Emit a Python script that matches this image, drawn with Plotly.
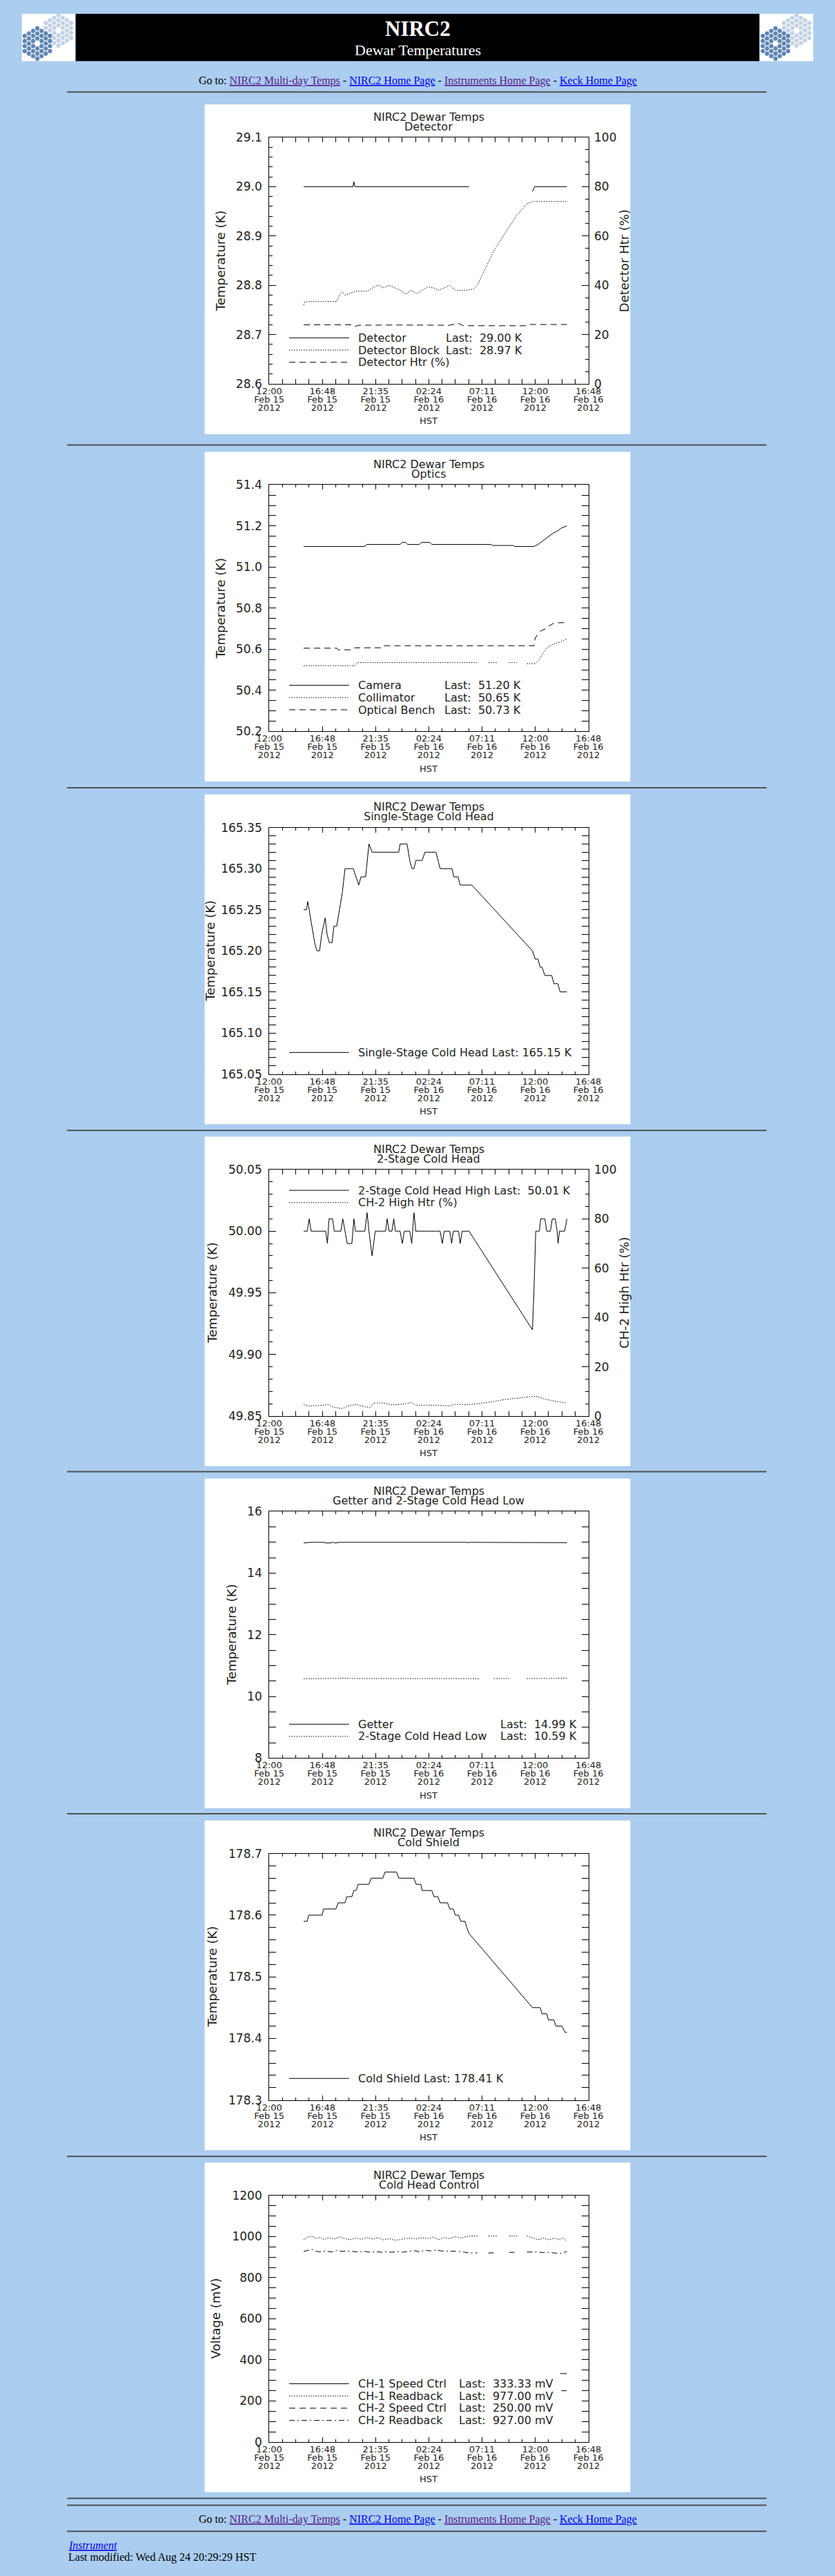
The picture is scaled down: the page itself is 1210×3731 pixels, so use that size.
import plotly.graph_objects as go

W, H = 1210, 3731
PAGE_BG = '#ABCDEF'
INK = '#1e1e1e'
SANS = 'DejaVu Sans'
SERIF = 'Liberation Serif'

# time axis: hours after 12:00 HST, Feb 15 2012
TICK_HOURS = [0.0, 4.8, 9.6, 14.4, 19.2, 24.0, 28.8]
TICK_TIME = ['12:00', '16:48', '21:35', '02:24', '07:11', '12:00', '16:48']
TICK_DAY = ['Feb 15', 'Feb 15', 'Feb 15', 'Feb 16', 'Feb 16', 'Feb 16', 'Feb 16']
TICK_YEAR = ['2012', '2012', '2012', '2012', '2012', '2012', '2012']

# --- Detector ---
DET_T = [3.11, 7.46, 7.56, 7.64, 7.73, 18.03, None, 23.75, 23.95, 26.86]
DET_K = [29.00, 29.00, 29.00, 29.01, 29.00, 29.00, None, 28.99, 29.00, 29.00]
BLOCK_T = [3.11, 3.23, 6.09, 6.34, 6.59, 6.84, 7.21, 7.83, 8.83, 9.33, 9.82, 10.32, 10.82,
           11.32, 11.81, 12.31, 12.81, 13.31, 13.80, 14.30, 14.80, 15.30, 15.79, 16.29,
           16.79, 17.78, 18.40, 18.78, 19.52, 20.27, 21.26, 22.26, 23.25, 23.75, 26.86]
BLOCK_K = [28.760, 28.767, 28.767, 28.780, 28.787, 28.780, 28.783, 28.788, 28.788, 28.795,
           28.800, 28.795, 28.800, 28.795, 28.790, 28.782, 28.790, 28.783, 28.790, 28.797,
           28.795, 28.790, 28.795, 28.800, 28.790, 28.790, 28.792, 28.800, 28.835, 28.870,
           28.905, 28.940, 28.965, 28.970, 28.970]
HTR_T = [3.11, 7.34, 7.71, 8.08, 11.32, 16.29, 17.04, 17.53, 23.25, 23.50, 26.86]
HTR_PCT = [24.0, 24.0, 23.3, 23.8, 23.9, 23.8, 24.6, 23.6, 23.6, 24.1, 24.1]

# --- Optics ---
CAM_T = [3.11, 8.58, 8.83, 11.81, 11.99, 12.31, 12.48, 13.55, 13.73, 14.50, 14.67, 20.02,
         20.14, 22.01, 22.13, 23.88, 24.25, 24.75, 25.24, 25.62, 25.99, 26.36, 26.86]
CAM_K = [51.100, 51.100, 51.110, 51.110, 51.120, 51.120, 51.110, 51.110, 51.120, 51.120,
         51.110, 51.110, 51.105, 51.105, 51.100, 51.100, 51.110, 51.130, 51.150, 51.165,
         51.175, 51.190, 51.200]
COLL_T = [3.11, 7.71, 7.96, 18.78, None, 19.77, 20.52, None, 21.64, 22.38, None,
          23.25, 24.00, 24.37, 24.75, 25.12, 25.62, 26.24, 26.86]
COLL_K = [50.520, 50.520, 50.535, 50.535, None, 50.535, 50.535, None, 50.535, 50.535, None,
          50.530, 50.530, 50.550, 50.585, 50.610, 50.625, 50.635, 50.650]
BENCH_T = [3.11, 6.09, 6.22, 7.46, 7.71, 10.07, 10.20, 23.88, 24.00, 24.50, 24.99, 25.29,
           25.74, 26.86]
BENCH_K = [50.605, 50.605, 50.597, 50.597, 50.607, 50.607, 50.617, 50.617, 50.655, 50.690,
           50.700, 50.715, 50.728, 50.730]

# --- Single-stage cold head ---
SS_T = [3.11, 3.36, 3.48, 3.73, 4.10, 4.30, 4.55, 4.73, 5.05, 5.22, 5.42, 5.67, 5.84, 6.09,
        6.34, 6.59, 6.84, 7.59, 7.83, 8.08, 8.28, 8.70, 9.00, 9.28, 11.69, 11.81, 12.44,
        12.68, 12.88, 13.06, 13.23, 13.80, 14.05, 15.05, 15.42, 16.49, 16.66, 17.04, 17.23,
        18.28, 23.75, 24.00, 24.25, 24.45, 24.62, 24.87, 25.49, 25.69, 26.04, 26.24, 26.86]
SS_K = [165.25, 165.25, 165.26, 165.24, 165.21, 165.20, 165.20, 165.22, 165.24, 165.22,
        165.21, 165.21, 165.23, 165.23, 165.25, 165.27, 165.30, 165.30, 165.29, 165.28,
        165.29, 165.29, 165.33, 165.32, 165.32, 165.33, 165.33, 165.31, 165.30, 165.30,
        165.31, 165.31, 165.32, 165.32, 165.30, 165.30, 165.29, 165.29, 165.28, 165.28,
        165.20, 165.19, 165.19, 165.18, 165.18, 165.17, 165.17, 165.16, 165.16, 165.15,
        165.15]

# --- 2-stage cold head (high) ---
HI_T = [3.11, 3.43, 3.61, 3.78, 5.10, 5.25, 5.40, 5.72, 5.87, 6.47, 6.64, 6.84, 7.04, 7.46,
        7.64, 7.78, 8.63, 8.83, 9.00, 9.28, 9.57, 10.50, 10.64, 10.82, 11.07, 11.24, 11.39,
        11.81, 12.01, 12.19, 12.68, 12.86, 13.06, 13.23, 15.42, 15.62, 15.79, 16.29, 16.46,
        16.61, 17.09, 17.23, 17.41, 18.03, 23.75, 23.88, 23.95, 24.05, 24.37, 24.50, 24.87,
        25.04, 25.37, 25.54, 25.81, 25.98, 26.06, 26.19, 26.66, 26.86]
HI_K = [50.00, 50.00, 50.01, 50.00, 50.00, 49.99, 50.01, 50.01, 50.00, 50.00, 50.01, 50.00,
        49.99, 49.99, 50.01, 50.00, 50.00, 50.015, 50.00, 49.98, 50.00, 50.00, 50.01, 50.00,
        50.00, 50.01, 50.00, 50.00, 49.99, 50.00, 50.00, 49.99, 50.015, 50.00, 50.00, 49.99,
        50.00, 50.00, 49.99, 50.00, 50.00, 49.99, 50.00, 50.00, 49.92, 49.95, 49.975, 50.00,
        50.00, 50.01, 50.01, 50.00, 50.00, 50.01, 50.01, 50.00, 49.99, 50.00, 50.00, 50.01]
HI_HTR_T = [3.11, 3.61, 4.85, 5.30, 5.72, 6.59, 7.09, 7.83, 8.33, 9.08, 9.45, 10.32, 11.07,
            11.56, 12.31, 12.81, 13.18, 15.30, 16.29, 16.79, 17.78, 18.78, 20.02, 21.26,
            22.51, 24.05, 24.99, 25.98, 26.74]
HI_HTR_PCT = [4.6, 4.1, 4.4, 4.7, 3.7, 3.0, 4.1, 4.7, 4.1, 3.4, 5.3, 5.3, 4.5, 4.7, 5.0, 5.6,
              4.4, 4.4, 4.1, 4.8, 4.6, 5.0, 5.7, 6.7, 7.4, 8.1, 6.7, 5.9, 5.3]

# --- Getter and 2-stage cold head (low) ---
GET_T = [3.11, 3.61, 3.73, 4.97, 5.05, 5.60, 5.67, 5.84, 5.92, 6.09, 6.22, 17.91, 17.98,
         18.06, 26.86]
GET_K = [14.98, 14.99, 15.00, 15.00, 14.98, 14.98, 15.00, 15.00, 14.98, 14.98, 15.00, 15.00,
         14.98, 15.00, 14.99]
LOW_T = [3.11, 4.50, 6.50, 8.50, 10.50, 12.50, 14.50, 16.50, 19.03, None, 20.27, 21.76, None,
         23.25, 24.50, 25.80, 26.86]
LOW_K = [10.57, 10.58, 10.59, 10.58, 10.58, 10.59, 10.58, 10.58, 10.57, None, 10.58, 10.58,
         None, 10.58, 10.58, 10.58, 10.59]

# --- Cold shield ---
CS_T = [3.11, 3.43, 3.56, 4.78, 4.90, 6.02, 6.22, 6.84, 7.01, 7.46, 7.64, 7.83, 8.03, 9.00,
        9.20, 10.25, 10.45, 11.49, 11.69, 13.06, 13.26, 13.68, 13.80, 14.67, 14.87, 15.22,
        15.42, 16.09, 16.29, 16.61, 16.79, 17.09, 17.28, 17.66, 17.83, 18.03, 18.28, 23.75,
        24.45, 24.62, 25.04, 25.19, 25.69, 25.86, 26.41, 26.69, 26.86]
CS_K = [178.59, 178.59, 178.60, 178.60, 178.61, 178.61, 178.62, 178.62, 178.63, 178.63,
        178.64, 178.64, 178.65, 178.65, 178.66, 178.66, 178.67, 178.67, 178.66, 178.66,
        178.65, 178.65, 178.64, 178.64, 178.63, 178.63, 178.62, 178.62, 178.61, 178.61,
        178.60, 178.60, 178.59, 178.59, 178.58, 178.57, 178.565, 178.45, 178.45, 178.44,
        178.44, 178.43, 178.43, 178.42, 178.42, 178.41, 178.41]

# --- Cold head control ---
CH1_SPD_T = [26.24, 26.86]
CH1_SPD_MV = [333.33, 333.33]
CH1_RB_T = [3.11, 3.48, 3.85, 4.23, 4.60, 4.97, 5.35, 5.84, 6.34, 6.84, 7.34, 7.83, 8.33,
            8.83, 9.33, 9.82, 10.32, 10.82, 11.32, 11.81, 12.31, 12.81, 13.31, 13.80, 14.30,
            14.80, 15.30, 15.79, 16.29, 16.79, 17.28, 17.78, 18.28, 18.78, None, 19.77, 20.52,
            None, 21.64, 22.38, None, 23.25, 23.75, 24.25, 24.75, 25.24, 25.74, 26.24, 26.49,
            26.86]
CH1_RB_MV = [985, 998, 1003, 990, 997, 985, 995, 988, 998, 990, 985, 993, 987, 996, 988, 995,
             984, 990, 983, 985, 990, 993, 988, 995, 990, 997, 985, 995, 990, 1000, 993, 1000,
             1003, 1003, None, 1003, 1003, None, 1003, 1003, None, 1003, 995, 985, 992, 984,
             992, 985, 995, 977]
CH2_SPD_T = [26.36, 26.86]
CH2_SPD_MV = [250.00, 250.00]
CH2_RB_T = [3.11, 3.48, 3.85, 4.23, 4.60, 5.10, 5.60, 6.09, 6.59, 7.09, 7.58, 8.08, 8.58,
            9.08, 9.57, 10.07, 10.57, 11.07, 11.56, 12.06, 12.56, 13.06, 13.55, 14.05, 14.55,
            15.05, 15.54, 16.04, 16.54, 17.04, 17.53, 18.03, 18.53, 18.78, None, 19.77, 20.52,
            None, 21.64, 22.38, None, 23.25, 23.75, 24.25, 24.75, 25.24, 25.74, 26.24, 26.86]
CH2_RB_MV = [928, 933, 938, 928, 926, 930, 925, 932, 928, 930, 927, 925, 928, 924, 927, 924,
             926, 924, 927, 924, 928, 932, 926, 934, 930, 935, 930, 930, 928, 928, 925, 920,
             922, 920, None, 920, 922, None, 923, 924, None, 925, 926, 925, 922, 924, 920,
             918, 927]

SOLID = 'solid'
DOTTED = '1.5px,2px'
DASHED = '9px,6px'
DASHDOT = '8px,4px,2px,4px'

CHARTS = [
    dict(sub='Detector', ytitle='Temperature (K)', yr=[28.6, 29.1], dt=0.1, mdt=0.02, fmt='.1f',
         y2=dict(title='Detector Htr (%)', yr=[0, 100], dt=20, mdt=5),
         series=[(DET_T, DET_K, SOLID, False), (BLOCK_T, BLOCK_K, DOTTED, False),
                 (HTR_T, HTR_PCT, DASHED, True)],
         legend=[('Detector', 'Last:  29.00 K'), ('Detector Block', 'Last:  28.97 K'),
                 ('Detector Htr (%)', '')],
         last_right=480, top_legend=False, ytitle_x=24),
    dict(sub='Optics', ytitle='Temperature (K)', yr=[50.2, 51.4], dt=0.2, mdt=0.05, fmt='.1f',
         series=[(CAM_T, CAM_K, SOLID, False), (COLL_T, COLL_K, DOTTED, False),
                 (BENCH_T, BENCH_K, DASHED, False)],
         legend=[('Camera', 'Last:  51.20 K'), ('Collimator', 'Last:  50.65 K'),
                 ('Optical Bench', 'Last:  50.73 K')],
         last_right=478, top_legend=False, ytitle_x=24),
    dict(sub='Single-Stage Cold Head', ytitle='Temperature (K)', yr=[165.05, 165.35], dt=0.05,
         mdt=0.01, fmt='.2f',
         series=[(SS_T, SS_K, SOLID, False)],
         legend=[('Single-Stage Cold Head Last: 165.15 K', '')],
         last_right=0, top_legend=False, ytitle_x=8),
    dict(sub='2-Stage Cold Head', ytitle='Temperature (K)', yr=[49.85, 50.05], dt=0.05,
         mdt=0.01, fmt='.2f',
         y2=dict(title='CH-2 High Htr (%)', yr=[0, 100], dt=20, mdt=5),
         series=[(HI_T, HI_K, SOLID, False), (HI_HTR_T, HI_HTR_PCT, DOTTED, True)],
         legend=[('2-Stage Cold Head High Last:  50.01 K', ''), ('CH-2 High Htr (%)', '')],
         last_right=0, top_legend=True, ytitle_x=11),
    dict(sub='Getter and 2-Stage Cold Head Low', ytitle='Temperature (K)', yr=[8, 16], dt=2,
         mdt=0.5, fmt='d',
         series=[(GET_T, GET_K, SOLID, False), (LOW_T, LOW_K, DOTTED, False)],
         legend=[('Getter', 'Last:  14.99 K'), ('2-Stage Cold Head Low', 'Last:  10.59 K')],
         last_right=562, top_legend=False, ytitle_x=41),
    dict(sub='Cold Shield', ytitle='Temperature (K)', yr=[178.3, 178.7], dt=0.1, mdt=0.02,
         fmt='.1f',
         series=[(CS_T, CS_K, SOLID, False)],
         legend=[('Cold Shield Last: 178.41 K', '')],
         last_right=0, top_legend=False, ytitle_x=11),
    dict(sub='Cold Head Control', ytitle='Voltage (mV)', yr=[0, 1200], dt=200, mdt=50, fmt='d',
         series=[(CH1_SPD_T, CH1_SPD_MV, SOLID, False), (CH1_RB_T, CH1_RB_MV, DOTTED, False),
                 (CH2_SPD_T, CH2_SPD_MV, DASHED, False), (CH2_RB_T, CH2_RB_MV, DASHDOT, False)],
         legend=[('CH-1 Speed Ctrl', 'Last:  333.33 mV'), ('CH-1 Readback', 'Last:  977.00 mV'),
                 ('CH-2 Speed Ctrl', 'Last:  250.00 mV'), ('CH-2 Readback', 'Last:  927.00 mV')],
         last_right=527, top_legend=False, ytitle_x=16),
]

BOX_TOP = [142, 648, 1147, 1645, 2143, 2641, 3139]
BOX_X, BOX_W, BOX_H = 285, 640, 480
PL, PR, PT, PB = 97, 577, 48, 407   # plot frame inside each image
RULES = [124, 638, 1137, 1636, 2133, 2631, 3130, 3628, 3638, 3676]


def fx(v):
    return v / W


def fy(v):
    return 1 - v / H


def nb(s):
    return s.replace(' ', '\u00a0')


shapes = []
notes = []


def label(x, y, s, size, color=INK, family=SANS, xanchor='center', angle=0):
    notes.append(dict(x=fx(x), y=fy(y), xref='paper', yref='paper', text=s, showarrow=False,
                      xanchor=xanchor, yanchor='middle', textangle=angle,
                      font=dict(family=family, size=size, color=color)))


def box(x0, y0, x1, y1, fill):
    shapes.append(dict(type='rect', xref='paper', yref='paper', x0=fx(x0), x1=fx(x1),
                       y0=fy(y1), y1=fy(y0), fillcolor=fill, line=dict(width=0), layer='below'))


fig = go.Figure()
layout_axes = {}

# page-sized axis used for the header logos
layout_axes['xaxis'] = dict(domain=[0, 1], range=[0, W], visible=False, fixedrange=True)
layout_axes['yaxis'] = dict(domain=[0, 1], range=[H, 0], visible=False, fixedrange=True)

# header
box(10, 10, 90, 79, 'white')
box(1120, 10, 1200, 79, 'white')
box(91, 10, 1119, 79, 'black')
for ox in (0, 1110):
    for cx, cy, col in ((65, 34.3, '#c3d3e5'), (33.3, 53.3, '#5f86b3')):
        hx, hy = [], []
        for q in range(-3, 4):
            for r in range(-3, 4):
                if abs(q + r) > 3 or (q == 0 and r == 0):
                    continue
                hx.append(ox + cx + 6.33 * q)
                hy.append(cy + 7.33 * (r + q / 2))
        fig.add_trace(go.Scatter(x=hx, y=hy, mode='markers', xaxis='x', yaxis='y',
                                 marker=dict(symbol='hexagon2', size=7, color=col),
                                 hoverinfo='skip', showlegend=False))

label(605, 32, '<b>NIRC2</b>', 31, color='white', family=SERIF)
label(605, 63, 'Dewar Temperatures', 22, color='white', family=SERIF)

GOTO = ('Go to: '
        '<span style="color:#551A8B;text-decoration:underline">NIRC2 Multi-day Temps</span> - '
        '<span style="color:#0000EE;text-decoration:underline">NIRC2 Home Page</span> - '
        '<span style="color:#551A8B;text-decoration:underline">Instruments Home Page</span> - '
        '<span style="color:#0000EE;text-decoration:underline">Keck Home Page</span>')
label(605, 108, GOTO, 16, color='black', family=SERIF)
label(605, 3659, GOTO, 16, color='black', family=SERIF)
label(78, 3696, '<i><span style="color:#0000EE;text-decoration:underline">Instrument</span></i>',
      16, color='#0000EE', family=SERIF, xanchor='left')
label(78, 3714, 'Last modified: Wed Aug 24 20:29:29 HST', 16, color='black', family=SERIF,
      xanchor='left')

for ry in RULES:
    shapes.append(dict(type='line', xref='paper', yref='paper', x0=fx(78), x1=fx(1130),
                       y0=fy(ry), y1=fy(ry), line=dict(color='#505050', width=2)))

tick_font = dict(family=SANS, size=13, color=INK)
ylab_font = dict(family=SANS, size=17, color=INK)

nx, ny = 1, 1
for top, c in zip(BOX_TOP, CHARTS):
    box(BOX_X, top, BOX_X + BOX_W, top + BOX_H, 'white')
    left, right = BOX_X + PL, BOX_X + PR
    nx += 1
    xm = nx
    nx += 3
    ny += 1
    ym = ny
    xdom = [fx(left), fx(right)]
    ydom = [fy(top + PB), fy(top + PT)]

    layout_axes[f'xaxis{xm}'] = dict(
        domain=xdom, anchor=f'y{ym}', range=[0, 28.8], tickmode='array',
        tickvals=TICK_HOURS, showticklabels=False, ticks='inside', ticklen=7, tickwidth=1,
        tickcolor='black', minor=dict(ticks='inside', ticklen=4, tickmode='linear', tick0=0,
                                      dtick=1.2, tickcolor='black', showgrid=False),
        mirror='allticks', showline=True, linecolor='black', linewidth=1, showgrid=False,
        zeroline=False, fixedrange=True)
    # three-line time labels (clock, day, year), one overlay axis per line
    for k, txt in ((1, TICK_TIME), (2, TICK_DAY), (3, TICK_YEAR)):
        layout_axes[f'xaxis{xm + k}'] = dict(
            overlaying=f'x{xm}', anchor=f'y{ym}', side='bottom', range=[0, 28.8],
            tickmode='array', tickvals=TICK_HOURS, ticktext=txt, ticks='', showline=False,
            showgrid=False, zeroline=False, tickfont=tick_font,
            ticklabelstandoff=1 + 12 * (k - 1), fixedrange=True)
        fig.add_trace(go.Scatter(x=[], y=[], mode='lines', xaxis=f'x{xm + k}', yaxis=f'y{ym}',
                                 hoverinfo='skip', showlegend=False))

    has_y2 = 'y2' in c
    layout_axes[f'yaxis{ym}'] = dict(
        domain=ydom, anchor=f'x{xm}', range=c['yr'], tickmode='linear', tick0=c['yr'][0],
        dtick=c['dt'], tickformat=c['fmt'], ticks='inside', ticklen=10, tickwidth=1,
        tickcolor='black', minor=dict(ticks='inside', ticklen=5, tickmode='linear',
                                      tick0=c['yr'][0], dtick=c['mdt'], tickcolor='black',
                                      showgrid=False),
        mirror=False if has_y2 else 'allticks', showline=True, linecolor='black', linewidth=1,
        showgrid=False, zeroline=False, tickfont=ylab_font, ticklabelstandoff=6,
        fixedrange=True)
    y2id = None
    if has_y2:
        ny += 1
        y2id = ny
        s2 = c['y2']
        layout_axes[f'yaxis{y2id}'] = dict(
            overlaying=f'y{ym}', anchor=f'x{xm}', side='right', range=s2['yr'],
            tickmode='linear', tick0=0, dtick=s2['dt'], ticks='inside', ticklen=10,
            tickwidth=1, tickcolor='black',
            minor=dict(ticks='inside', ticklen=5, tickmode='linear', tick0=0, dtick=s2['mdt'],
                       tickcolor='black', showgrid=False),
            showline=True, linecolor='black', linewidth=1, showgrid=False, zeroline=False,
            tickfont=ylab_font, ticklabelstandoff=4, fixedrange=True)
        label(BOX_X + 631, top + (PT + PB) / 2, s2['title'], 18, angle=-90)

    for xs, ys, dash, on2 in c['series']:
        fig.add_trace(go.Scatter(
            x=xs, y=ys, mode='lines', xaxis=f'x{xm}', yaxis=f'y{y2id if on2 else ym}',
            line=dict(color='black', width=1, dash=dash), hoverinfo='skip', showlegend=False))

    # titles
    mid = (left + right) / 2
    label(mid, top + 18, 'NIRC2 Dewar Temps', 16)
    label(mid, top + 32, c['sub'], 16)
    label(BOX_X + c['ytitle_x'], top + (PT + PB) / 2, c['ytitle'], 18, angle=-90)
    label(mid, top + 461, 'HST', 13)

    # IDL-style legend drawn in the plot corner
    n = len(c['legend'])
    for j, ((name, last), (_, _, dash, _)) in enumerate(zip(c['legend'], c['series'])):
        ry = top + (78.3 + 17.8 * j if c['top_legend'] else 375.5 - 17.8 * (n - 1 - j))
        shapes.append(dict(type='line', xref='paper', yref='paper', x0=fx(BOX_X + 127),
                           x1=fx(BOX_X + 217), y0=fy(ry), y1=fy(ry),
                           line=dict(color='black', width=1, dash=dash)))
        label(BOX_X + 229, ry, nb(name), 16, xanchor='left')
        if last:
            label(BOX_X + c['last_right'], ry, nb(last), 16, xanchor='right')

fig.update_layout(
    width=W, height=H, margin=dict(l=0, r=0, t=0, b=0),
    paper_bgcolor=PAGE_BG, plot_bgcolor='rgba(0,0,0,0)',
    showlegend=False, shapes=shapes, annotations=notes, **layout_axes)

fig.write_html("out.html", config={'displayModeBar': False},
               post_script="document.body.style.margin='0';"
                           "document.body.style.background='#ABCDEF';")
